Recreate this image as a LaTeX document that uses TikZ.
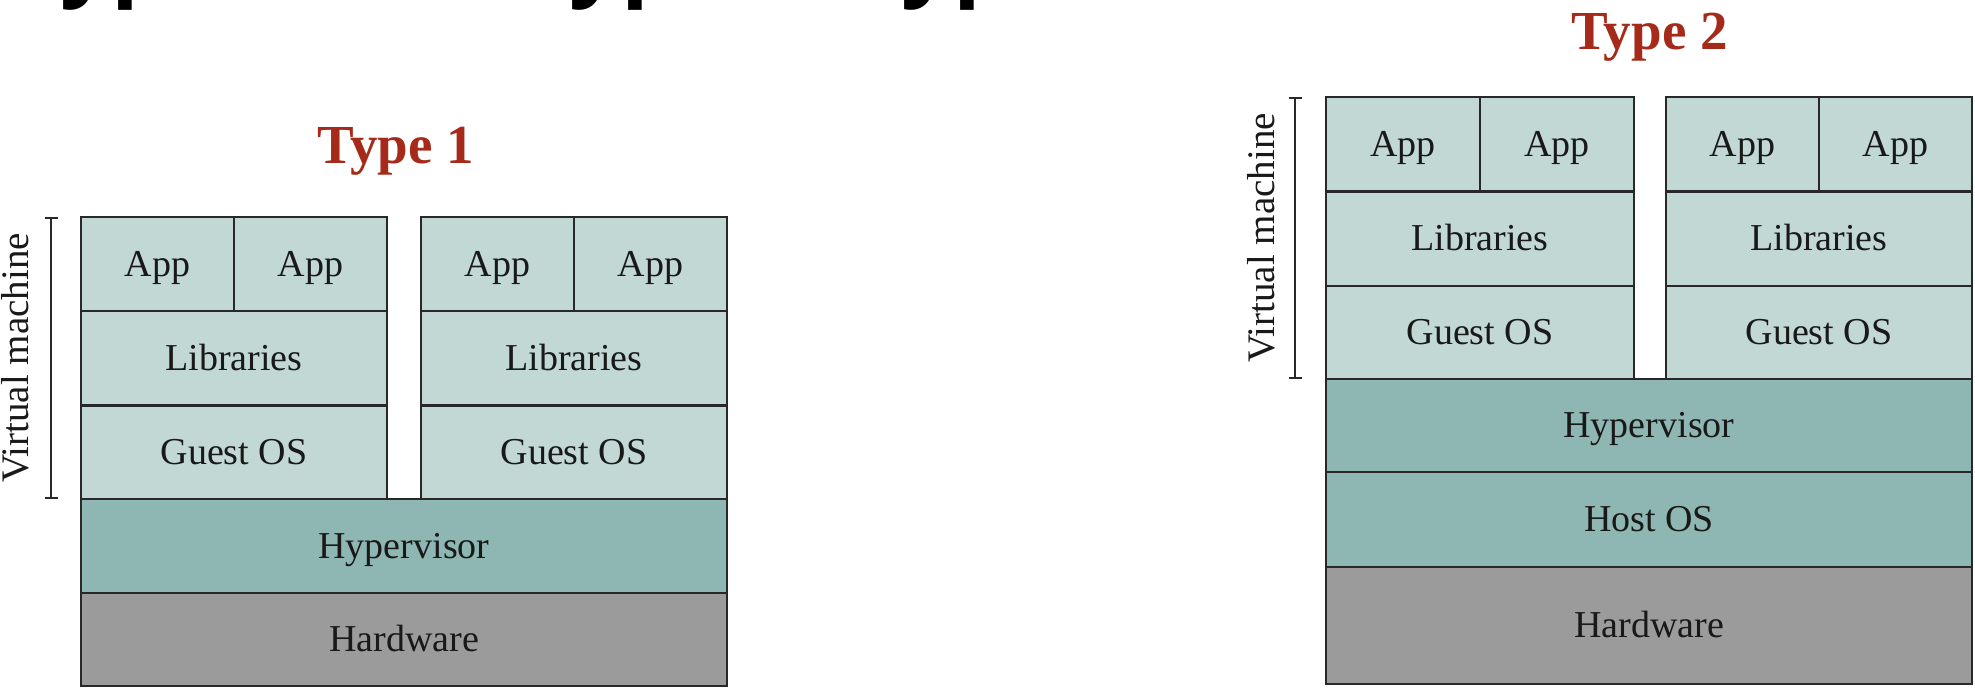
\documentclass[tikz,border=0pt]{standalone}
\usepackage{fontspec}
\setmainfont{Liberation Serif}
\newfontfamily\topsans{Open Sans}
\usetikzlibrary{arrows.meta}
\definecolor{lightcell}{RGB}{193,216,212}
\definecolor{midcell}{RGB}{142,183,179}
\definecolor{hwcell}{RGB}{155,155,155}
\definecolor{edgecol}{RGB}{40,40,40}
\definecolor{titlered}{RGB}{165,42,26}
\definecolor{txtcol}{RGB}{25,25,25}
\tikzset{
  cell/.style={draw=edgecol, line width=2.5pt, rectangle, inner sep=0pt,
    text=txtcol, font=\fontsize{38}{40}\selectfont, text height=30pt, text depth=6pt},
  vmcell/.style={cell, fill=lightcell},
  hvcell/.style={cell, fill=midcell},
  hwbox/.style={cell, fill=hwcell},
  typetitle/.style={text=titlered, font=\fontsize{55}{58}\selectfont\bfseries, anchor=base, inner sep=0pt},
  vmlabel/.style={text=txtcol, font=\fontsize{39}{41}\selectfont, rotate=90, anchor=base, inner sep=0pt},
  vmbracket/.style={draw=edgecol, line width=2pt, {Bar[width=13pt,line width=2pt]}-{Bar[width=13pt,line width=2pt]}}
}
\begin{document}
\begin{tikzpicture}[x=1pt,y=-1pt]
\useasboundingbox (0,0) rectangle (1975,691);
\begin{scope}
\clip (0,0) rectangle (1975,691);
\node[anchor=base west, inner sep=0pt, font=\fontsize{91}{93}\selectfont\topsans\bfseries] (maintitle) at (9,-12) {Type 1 and Type 2 Hypervisors};
\node[vmlabel] (vml) at (28,358) {Virtual machine};
\end{scope}

% ---------- Type 1 ----------
\node[typetitle] (t1) at (396,163) {Type 1};
\coordinate (lbt) at (51,217);
\coordinate (lbb) at (51,499);
\draw[vmbracket] (lbt) -- (lbb);

\node[hwbox, minimum width=646pt, minimum height=93pt] (lhw) at (404,639.5) {Hardware};
\node[hvcell, minimum width=646pt, minimum height=94pt] (lhv) at (404,546) {Hypervisor};
\node[vmcell, minimum width=306pt, minimum height=93.5pt] (lg1) at (234,452.25) {Guest OS};
\node[vmcell, minimum width=306pt, minimum height=94.5pt] (ll1) at (234,358.25) {Libraries};
\node[vmcell, minimum width=153pt, minimum height=94pt] (la1) at (157.5,264) {App};
\node[vmcell, minimum width=153pt, minimum height=94pt] (la2) at (310.5,264) {App};
\node[vmcell, minimum width=306pt, minimum height=93.5pt] (lg2) at (574,452.25) {Guest OS};
\node[vmcell, minimum width=306pt, minimum height=94.5pt] (ll2) at (574,358.25) {Libraries};
\node[vmcell, minimum width=153pt, minimum height=94pt] (la3) at (497.5,264) {App};
\node[vmcell, minimum width=153pt, minimum height=94pt] (la4) at (650.5,264) {App};

% ---------- Type 2 ----------
\node[typetitle] (t2) at (1649.5,49) {Type 2};
\coordinate (rbt) at (1295,97);
\coordinate (rbb) at (1295,379);
\draw[vmbracket] (rbt) -- (rbb);
\node[vmlabel] (vmr) at (1274,238) {Virtual machine};

\node[hwbox, minimum width=646pt, minimum height=117pt] (rhw) at (1649,625.5) {Hardware};
\node[hvcell, minimum width=646pt, minimum height=95pt] (rho) at (1649,519.5) {Host OS};
\node[hvcell, minimum width=646pt, minimum height=93pt] (rhv) at (1649,425.5) {Hypervisor};
\node[vmcell, minimum width=308pt, minimum height=93pt] (rg1) at (1480,332.5) {Guest OS};
\node[vmcell, minimum width=308pt, minimum height=94.5pt] (rl1) at (1480,238.75) {Libraries};
\node[vmcell, minimum width=154pt, minimum height=94.5pt] (ra1) at (1403,144.25) {App};
\node[vmcell, minimum width=154pt, minimum height=94.5pt] (ra2) at (1557,144.25) {App};
\node[vmcell, minimum width=306pt, minimum height=93pt] (rg2) at (1819,332.5) {Guest OS};
\node[vmcell, minimum width=306pt, minimum height=94.5pt] (rl2) at (1819,238.75) {Libraries};
\node[vmcell, minimum width=153pt, minimum height=94.5pt] (ra3) at (1742.5,144.25) {App};
\node[vmcell, minimum width=153pt, minimum height=94.5pt] (ra4) at (1895.5,144.25) {App};
\end{tikzpicture}
\end{document}
